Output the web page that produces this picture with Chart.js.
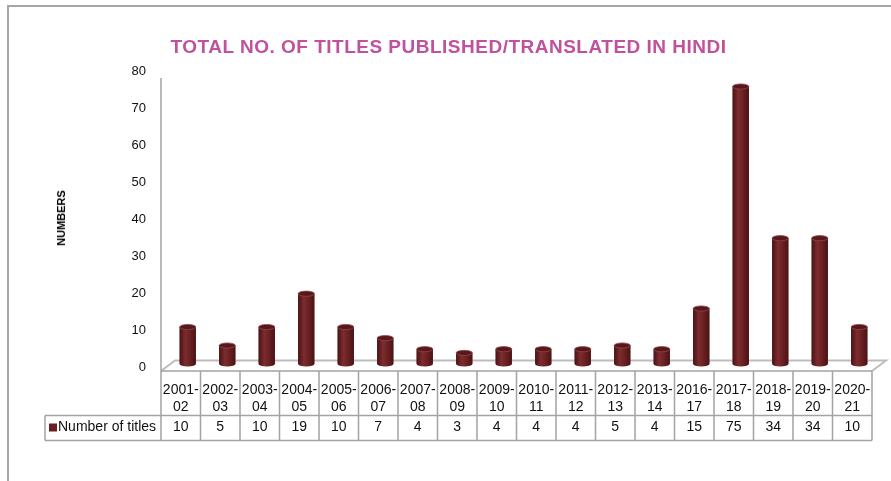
<!DOCTYPE html>
<html>
<head>
<meta charset="utf-8">
<script src="https://cdn.jsdelivr.net/npm/chart.js@4.4.0/dist/chart.umd.min.js"></script>
<style>
  body { margin: 0; background: #fff; }
  #wrap { position: relative; width: 891px; height: 481px; overflow: hidden; }
  #frame { position: absolute; left: 7px; top: 5px; width: 900px; height: 500px;
           border-top: 2px solid #a6a6a6; border-left: 2px solid #a6a6a6; }
  #title { position: absolute; left: 0; width: 897px; top: 36px; text-align: center;
           font: bold 19px "Liberation Sans", Arial, sans-serif; letter-spacing: 0.5px; color: #c0519e; }
  #ytitle { position: absolute; left: 61px; top: 218px; transform: translate(-50%, -50%) rotate(-90deg);
            font: bold 11px "Liberation Sans", Arial, sans-serif; color: #000; white-space: nowrap; }
  canvas { position: absolute; left: 0; top: 0; }
</style>
</head>
<body>
<div id="wrap">
  <div id="frame"></div>
  <canvas id="chart" width="891" height="481"></canvas>
  <div id="title">TOTAL NO. OF TITLES PUBLISHED/TRANSLATED IN HINDI</div>
  <div id="ytitle">NUMBERS</div>
</div>
<script>
const periods = ['2001-02', '2002-03', '2003-04', '2004-05', '2005-06', '2006-07', '2007-08', '2008-09',
  '2009-10', '2010-11', '2011-12', '2012-13', '2013-14', '2016-17', '2017-18', '2018-19', '2019-20', '2020-21'];
const titles = [10, 5, 10, 19, 10, 7, 4, 3, 4, 4, 4, 5, 4, 15, 75, 34, 34, 10];
const seriesName = 'Number of titles';
const yMin = 0;
const yMax = 80;
const yStep = 10;

const barColor = '#6a2022';
const gridColor = '#a3a3a3';
const tableFont = '14px "Liberation Sans", Arial, sans-serif';
const legendLeft = 45;

// floor, 3d bar shading and the data table under the plot
const table3d = {
  id: 'table3d',
  beforeDatasetsDraw(chart) {
    const { ctx, chartArea: a } = chart;
    const front = a.bottom + 4;
    const back = a.bottom - 6.5;
    ctx.save();
    ctx.strokeStyle = '#bdbdbd';
    ctx.lineWidth = 2;
    ctx.beginPath();
    ctx.moveTo(a.left, front);
    ctx.lineTo(a.left + 14, back);
    ctx.lineTo(a.right + 14, back);
    ctx.lineTo(a.right, front);
    ctx.stroke();
    ctx.strokeStyle = gridColor;
    ctx.lineWidth = 1.5;
    ctx.beginPath();
    ctx.moveTo(a.left, a.top + 7);
    ctx.lineTo(a.left, front);
    ctx.stroke();
    ctx.restore();
    ctx.save();
    ctx.translate(7, -3); // depth shift of the bars
  },
  afterDatasetsDraw(chart) {
    const ctx = chart.ctx;
    chart.getDatasetMeta(0).data.forEach((bar) => {
      const { x, y, base, width } = bar.getProps(['x', 'y', 'base', 'width'], true);
      const l = x - width / 2;
      const r = x + width / 2;
      const ry = width * 0.16;
      const g = ctx.createLinearGradient(l, 0, r, 0);
      g.addColorStop(0, '#4a1214');
      g.addColorStop(0.35, '#7c2c2e');
      g.addColorStop(0.65, '#6a2022');
      g.addColorStop(1, '#4a1214');
      ctx.fillStyle = g;
      ctx.beginPath();
      ctx.moveTo(l, y);
      ctx.lineTo(l, base);
      ctx.ellipse(x, base, width / 2, ry, 0, Math.PI, 0, true);
      ctx.lineTo(r, y);
      ctx.closePath();
      ctx.fill();
      ctx.beginPath();
      ctx.ellipse(x, y, width / 2, ry, 0, 0, Math.PI * 2);
      ctx.fillStyle = '#591719';
      ctx.fill();
      ctx.strokeStyle = '#8c4a4c';
      ctx.lineWidth = 0.8;
      ctx.stroke();
    });
    ctx.restore();
  },
  afterDraw(chart) {
    const { ctx, chartArea: a, scales: { x } } = chart;
    const top = a.bottom + 4;
    const mid = top + 44.5;
    const bot = mid + 25;
    const half = (x.getPixelForValue(1) - x.getPixelForValue(0)) / 2;

    ctx.save();
    ctx.strokeStyle = gridColor;
    ctx.lineWidth = 1.5;
    ctx.beginPath();
    ctx.moveTo(a.left, top); ctx.lineTo(a.right, top);
    ctx.moveTo(legendLeft, mid); ctx.lineTo(a.right, mid);
    ctx.moveTo(legendLeft, bot); ctx.lineTo(a.right, bot);
    ctx.moveTo(legendLeft, mid); ctx.lineTo(legendLeft, bot);
    periods.forEach((p, i) => {
      const px = x.getPixelForValue(i) - half;
      ctx.moveTo(px, top); ctx.lineTo(px, bot);
    });
    ctx.moveTo(a.right, top); ctx.lineTo(a.right, bot);
    ctx.stroke();

    ctx.fillStyle = '#111';
    ctx.font = tableFont;
    ctx.textAlign = 'center';
    ctx.textBaseline = 'middle';
    periods.forEach((p, i) => {
      const cx = x.getPixelForValue(i);
      const [a1, a2] = p.split('-');
      ctx.fillText(a1 + '-', cx, top + 19.5);
      ctx.fillText(a2, cx, top + 36);
      ctx.fillText(String(titles[i]), cx, mid + 12);
    });

    ctx.fillStyle = barColor;
    ctx.fillRect(legendLeft + 4, mid + 8, 8, 8);
    ctx.fillStyle = '#111';
    ctx.textAlign = 'left';
    ctx.fillText(seriesName, legendLeft + 13, mid + 12);
    ctx.restore();
  }
};

new Chart(document.getElementById('chart'), {
  type: 'bar',
  data: {
    labels: periods,
    datasets: [{
      label: seriesName,
      data: titles,
      backgroundColor: barColor,
      barPercentage: 0.41,
      categoryPercentage: 1
    }]
  },
  options: {
    responsive: false,
    animation: false,
    layout: { padding: { top: 71, bottom: 114, left: 0, right: 19 } },
    plugins: { legend: { display: false }, tooltip: { enabled: false }, title: { display: false } },
    scales: {
      x: { display: false },
      y: {
        min: yMin,
        max: yMax,
        ticks: { stepSize: yStep, padding: 15, color: '#111', font: { family: '"Liberation Sans", Arial, sans-serif', size: 13 } },
        grid: { display: false, drawTicks: false },
        border: { display: false },
        afterFit(scale) { scale.width = 161; }
      }
    }
  },
  plugins: [table3d]
});
</script>
</body>
</html>
